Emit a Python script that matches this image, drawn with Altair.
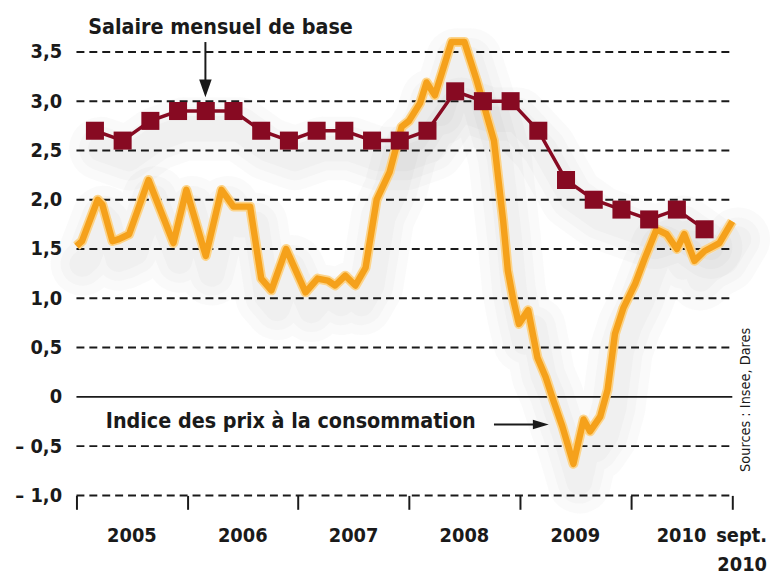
import altair as alt
import pandas as pd

# ---- Data (month index: 0 = janvier 2005) ----
# Salaire mensuel de base, glissement annuel (%), trimestriel (mars 2005 -> sept. 2010)
smb_mois = [2, 5, 8, 11, 14, 17, 20, 23, 26, 29, 32, 35, 38, 41, 44, 47, 50, 53, 56, 59, 62, 65, 68]
smb_valeurs = [2.7, 2.6, 2.8, 2.9, 2.9, 2.9, 2.7, 2.6, 2.7, 2.7, 2.6, 2.6,
               2.7, 3.1, 3.0, 3.0, 2.7, 2.2, 2.0, 1.9, 1.8, 1.9, 1.7]

# Indice des prix à la consommation, glissement annuel (%)
ipc_mois = [0, 0.6, 2.3, 2.8, 3.9, 4.6, 5.7, 7.8, 10.5, 11.9, 14.0, 15.7, 17.0, 18.8,
            20.0, 21.1, 22.7, 24.8, 26.1, 27.2, 28.0, 29.1, 30.2, 31.3, 32.5, 33.9,
            35.2, 36.0, 37.2, 37.9, 38.8, 40.6, 42.0, 43.3, 44.4, 45.2, 46.2, 46.7,
            47.3, 47.9, 48.9, 49.9, 50.8, 51.6, 52.6, 53.8, 54.9, 55.6, 56.7, 57.5,
            58.3, 59.2, 60.5, 61.5, 62.8, 63.9, 65.0, 65.8, 66.9, 68.0, 69.6, 71.0]
ipc_valeurs = [1.53, 1.58, 2.0, 1.95, 1.58, 1.6, 1.65, 2.2, 1.56, 2.1, 1.43, 2.1, 1.93, 1.93,
               1.2, 1.08, 1.5, 1.06, 1.2, 1.18, 1.13, 1.23, 1.13, 1.31, 2.0, 2.28,
               2.74, 2.8, 2.98, 3.19, 3.06, 3.6, 3.6, 3.22, 2.86, 2.6, 1.78, 1.28,
               0.98, 0.74, 0.88, 0.4, 0.2, -0.03, -0.3, -0.68, -0.23, -0.35, -0.2, 0.07,
               0.64, 0.9, 1.15, 1.4, 1.7, 1.65, 1.5, 1.65, 1.38, 1.48, 1.56, 1.78]

y_ticks = [-1.0, -0.5, 0.0, 0.5, 1.0, 1.5, 2.0, 2.5, 3.0, 3.5]
x_ticks = [0, 12, 24, 36, 48, 60, 71]
annees = ["2005", "2006", "2007", "2008", "2009", "2010"]

FONT = "DejaVu Sans Condensed"
INK = "#1a1a1a"
ORANGE = "#F5A11B"
BORDEAUX = "#870A22"

df_smb = pd.DataFrame({"mois": smb_mois, "val": smb_valeurs, "ordre": list(range(len(smb_mois)))})
df_ipc = pd.DataFrame({"mois": ipc_mois, "val": ipc_valeurs, "ordre": list(range(len(ipc_mois)))})
df_grid = pd.DataFrame({"val": [v for v in y_ticks if v != 0], "mois": x_ticks[0], "mois2": x_ticks[-1]})
df_zero = pd.DataFrame({"val": [0.0], "mois": x_ticks[0], "mois2": x_ticks[-1]})
df_years = pd.DataFrame({
    "annee": annees,
    "mois": [(x_ticks[i] + x_ticks[i + 1]) / 2 for i in range(len(annees))],
    "val": [-1.41] * len(annees),
})

xs = alt.Scale(domain=[0, 71], nice=False, zero=False)
ys = alt.Scale(domain=[-1, 3.5], nice=False, zero=False)

yaxis = alt.Axis(
    values=y_ticks,
    labelExpr="datum.value == 0 ? '0' : (datum.value < 0 ? '– ' : '') + replace(format(abs(datum.value), '.1f'), '.', ',')",
    labelFont=FONT, labelFontSize=20, labelFontWeight="bold", labelColor=INK,
    labelPadding=15, ticks=False, domain=False, grid=False, title=None,
)
xaxis = alt.Axis(
    values=x_ticks, labels=False, ticks=True, tickSize=14, tickWidth=2,
    tickColor=INK, domain=False, grid=False, title=None,
)

X = alt.X("mois:Q", scale=xs, axis=xaxis)
Y = alt.Y("val:Q", scale=ys, axis=yaxis)

# soft shadows under the curves
shadows = []
for df in (df_ipc, df_smb):
    for w in (64, 44, 26):
        shadows.append(
            alt.Chart(df).mark_line(color="#6f6f6f", opacity=0.035, strokeWidth=w,
                                    strokeJoin="round", strokeCap="round",
                                    xOffset=6, yOffset=18)
            .encode(x=X, y=Y, order="ordre:Q")
        )

grid = alt.Chart(df_grid).mark_rule(color=INK, strokeWidth=2, strokeDash=[8, 5]).encode(
    x=X, y=Y, x2="mois2:Q")
zero = alt.Chart(df_zero).mark_rule(color=INK, strokeWidth=1.6).encode(
    x=X, y=Y, x2="mois2:Q")

ipc_glow = alt.Chart(df_ipc).mark_line(color="#FCD48A", strokeWidth=10, strokeJoin="round").encode(
    x=X, y=Y, order="ordre:Q")
ipc_line = alt.Chart(df_ipc).mark_line(color=ORANGE, strokeWidth=6.5, strokeJoin="round").encode(
    x=X, y=Y, order="ordre:Q")

smb_line = alt.Chart(df_smb).mark_line(color=BORDEAUX, strokeWidth=3.5).encode(x=X, y=Y, order="ordre:Q")
smb_pts = alt.Chart(df_smb).mark_square(color=BORDEAUX, size=330, opacity=1).encode(x=X, y=Y)

# annotations
df_ann = pd.DataFrame({
    "txt": ["Salaire mensuel de base", "Indice des prix à la consommation"],
    "mois": [15.6, 23.2],
    "val": [3.74, -0.26],
})
ann = alt.Chart(df_ann).mark_text(font=FONT, fontSize=21.5, fontWeight="bold", color=INK,
                                  align="center", baseline="middle").encode(x=X, y=Y, text="txt:N")

df_arr = pd.DataFrame({"mois": [13.96, 45.2], "val": [3.6, -0.28], "mois2": [13.96, 49.6], "val2": [3.16, -0.28]})
arrows = alt.Chart(df_arr).mark_rule(color=INK, strokeWidth=2).encode(
    x=X, y=Y, x2="mois2:Q", y2="val2:Q")
df_hd = pd.DataFrame({"mois": [13.96], "val": [3.13]})
df_hr = pd.DataFrame({"mois": [50.27], "val": [-0.28]})
head_down = alt.Chart(df_hd).mark_point(
    shape="M-0.7,-1L0.7,-1L0,1Z", size=324, filled=True, color=INK, opacity=1).encode(x=X, y=Y)
head_right = alt.Chart(df_hr).mark_point(
    shape="M-1,-0.6L1,0L-1,0.6Z", size=256, filled=True, color=INK, opacity=1).encode(x=X, y=Y)

years = alt.Chart(df_years).mark_text(
    font=FONT, fontSize=20, fontWeight="bold", color=INK, align="center", baseline="middle"
).encode(x=X, y=Y, text="annee:N")

df_sept = pd.DataFrame({"t": ["sept.", "2010"], "mois": [71, 71], "val": [-1.41, -1.71]})
sept = alt.Chart(df_sept).mark_text(
    font=FONT, fontSize=20, fontWeight="bold", color=INK, align="right", baseline="middle", dx=35
).encode(x=X, y=Y, text="t:N")

df_src = pd.DataFrame({"t": ["Sources : Insee, Dares"], "mois": [72.5], "val": [-0.03]})
sources = alt.Chart(df_src).mark_text(
    font=FONT, fontSize=14.5, color=INK, angle=270, align="center", baseline="middle"
).encode(x=X, y=Y, text="t:N")

chart = alt.layer(
    *shadows, grid, zero, ipc_glow, ipc_line, smb_line, smb_pts,
    ann, arrows, head_down, head_right, years, sept, sources,
).properties(
    width=661, height=447,
    autosize=alt.AutoSizeParams(type="none"),
    padding={"left": 69, "top": 42, "right": 38, "bottom": 80},
    background="white",
).configure_view(stroke=None)

chart.save("out.html", embed_options={"renderer": "svg", "actions": False})
